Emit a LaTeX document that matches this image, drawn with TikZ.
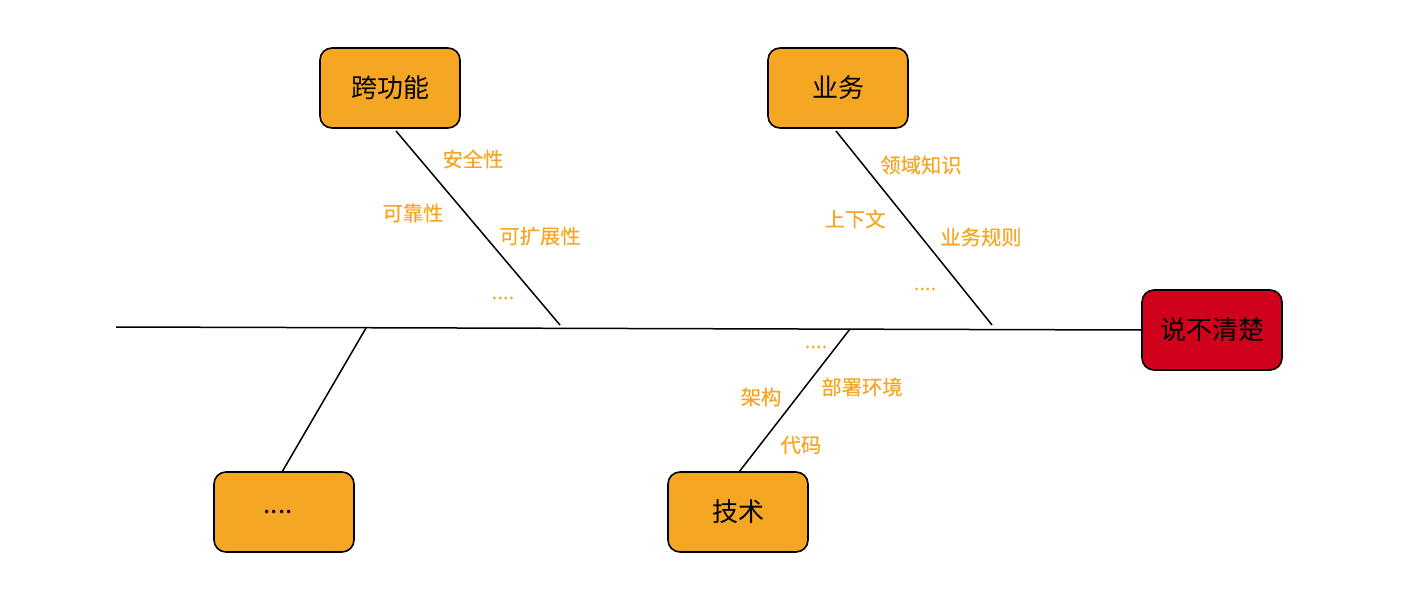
\documentclass[tikz,border=0pt]{standalone}
\usepackage{fontspec}
\setmainfont{Noto Sans CJK SC}
\newfontfamily\lblfont[FakeBold=0.4]{Noto Sans CJK SC}
\begin{document}
\begin{tikzpicture}[x=1pt,y=-1pt,
  cat/.style={draw=black,line width=1.6pt,rounded corners=12pt,fill=catorange,minimum width=140pt,minimum height=80pt,inner sep=0pt,font=\fontsize{26}{30}\selectfont},
  lbl/.style={text=catorange,font=\lblfont\fontsize{20.3}{24}\selectfont,inner sep=0pt},
  bone/.style={draw=black,line width=1.5pt}]
\definecolor{catorange}{HTML}{F5A623}
\definecolor{headred}{HTML}{D0021B}
\useasboundingbox (0,0) rectangle (1404,604);
\node[cat] (kgn) at (390,88) {跨功能};
\node[cat] (yw) at (838,88) {业务};
\node[cat,fill=headred] (head) at (1212,330) {说不清楚};
\node[cat] (more) at (284,512) {....\kern12pt\relax};
\node[cat] (js) at (738,512) {技术};
\coordinate (tail) at (116,327);
\coordinate (s1) at (560,325);
\coordinate (s2) at (992,325);
\coordinate (s3) at (850,329);
\coordinate (s4) at (366,328);
\draw[bone] (tail) -- (head.west);
\draw[bone] (396,131) coordinate (k0) -- (s1);
\draw[bone] (836,131) coordinate (y0) -- (s2);
\draw[bone] (739,472) coordinate (j0) -- (s3);
\draw[bone] (282,472) coordinate (m0) -- (s4);
\node[lbl] (l1) at (473,159) {安全性};
\node[lbl] (l2) at (413,213) {可靠性};
\node[lbl] (l3) at (540,236) {可扩展性};
\node[lbl] (l4) at (503,298) {....};
\node[lbl] (l5) at (921,165) {领域知识};
\node[lbl] (l6) at (855,219) {上下文};
\node[lbl] (l7) at (981,237) {业务规则};
\node[lbl] (l8) at (925,289) {....};
\node[lbl] (l9) at (816,347) {....};
\node[lbl] (l10) at (862,387) {部署环境};
\node[lbl] (l11) at (761,397) {架构};
\node[lbl] (l12) at (801,445) {代码};
\end{tikzpicture}
\end{document}
